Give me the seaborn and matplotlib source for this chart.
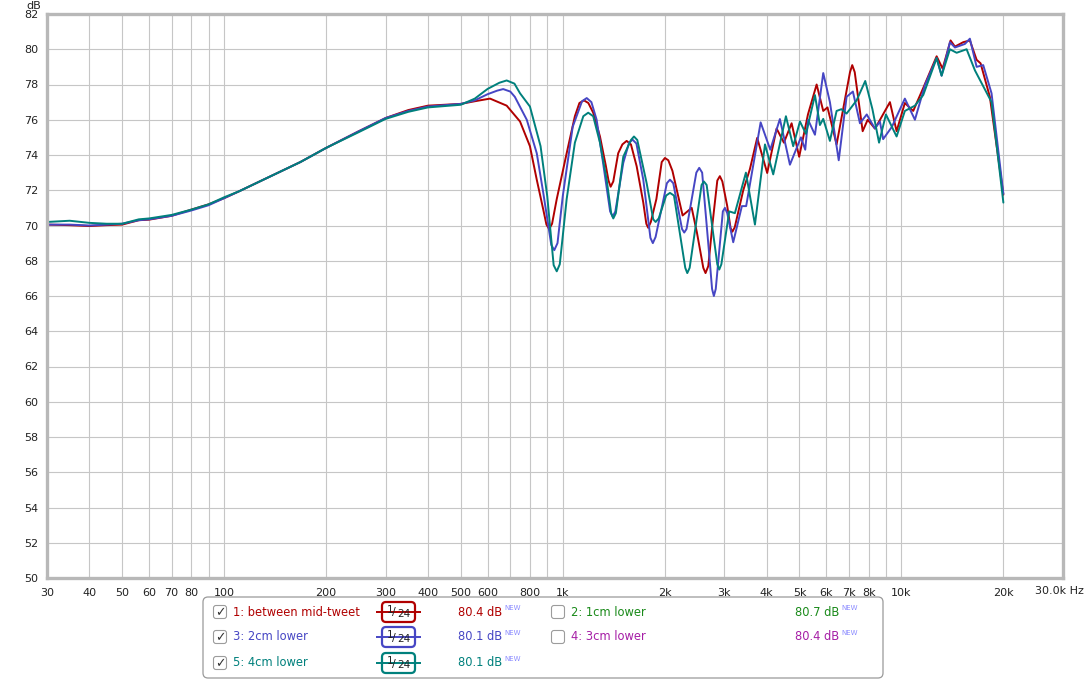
import pandas as pd
import matplotlib
matplotlib.use("Agg")
import matplotlib.pyplot as plt
from matplotlib.patches import FancyBboxPatch
import seaborn as sns

# frequency response: (Hz, dB)
red_points = [
    (30, 70.05), (35, 70.02), (40, 69.97), (45, 70.02), (50, 70.05), (56, 70.3), (60, 70.33),
    (70, 70.55), (80, 70.9), (90, 71.2), (100, 71.55), (111, 71.95), (134, 72.7), (168, 73.6),
    (200, 74.4), (250, 75.35), (300, 76.1), (350, 76.55), (400, 76.8), (500, 76.9),
    (550, 77.05), (610, 77.2), (683, 76.8), (748, 75.9), (800, 74.5), (838, 72.6),
    (876, 70.9), (895, 70.05), (912, 69.8), (930, 70.1), (960, 71.5), (1027, 74.1),
    (1086, 76.2), (1120, 76.95), (1155, 77.1), (1190, 76.95), (1230, 76.4), (1288, 75.05),
    (1340, 73.4), (1365, 72.55), (1385, 72.2), (1410, 72.5), (1458, 74.1), (1500, 74.6),
    (1544, 74.8), (1590, 74.6), (1653, 73.36), (1729, 71.3), (1765, 70.1), (1788, 69.87),
    (1820, 70.2), (1890, 71.5), (1960, 73.6), (2003, 73.83), (2050, 73.7), (2108, 73.1),
    (2259, 70.57), (2403, 71.0), (2490, 69.6), (2600, 67.6), (2640, 67.3), (2690, 67.7),
    (2770, 70.15), (2860, 72.55), (2910, 72.8), (2960, 72.5), (3060, 71.1), (3130, 69.85),
    (3170, 69.65), (3220, 69.9), (3412, 72.0), (3570, 73.2), (3751, 74.97), (4015, 72.98),
    (4280, 75.5), (4498, 74.7), (4740, 75.8), (4990, 73.9), (5297, 76.3), (5619, 78.0),
    (5877, 76.5), (6050, 76.7), (6436, 74.6), (7050, 78.7), (7158, 79.1), (7280, 78.7),
    (7684, 75.35), (7950, 76.0), (8352, 75.5), (8590, 75.9), (9249, 77.0), (9678, 75.35),
    (10237, 76.95), (10836, 76.5), (11598, 77.8), (12706, 79.6), (13232, 78.9),
    (13969, 80.5), (14390, 80.15), (15220, 80.4), (15928, 80.5), (16676, 79.4),
    (17132, 79.2), (18243, 77.3), (20000, 71.75),
]

blue_points = [
    (30, 70.05), (35, 70.05), (40, 70.0), (45, 70.05), (50, 70.1), (56, 70.3), (60, 70.35),
    (70, 70.55), (80, 70.85), (90, 71.15), (100, 71.55), (111, 71.95), (134, 72.7),
    (168, 73.6), (200, 74.4), (250, 75.35), (300, 76.1), (350, 76.5), (400, 76.75),
    (500, 76.9), (550, 77.1), (600, 77.45), (640, 77.65), (667, 77.74), (700, 77.6),
    (722, 77.3), (783, 76.0), (838, 74.1), (876, 71.85), (925, 68.9), (944, 68.6),
    (965, 69.0), (1000, 71.66), (1070, 75.6), (1140, 77.05), (1177, 77.23), (1215, 77.0),
    (1259, 76.0), (1312, 73.7), (1380, 70.8), (1404, 70.5), (1430, 70.8), (1509, 73.55),
    (1570, 74.7), (1608, 74.87), (1650, 74.65), (1729, 72.6), (1815, 69.3), (1845, 69.0),
    (1880, 69.35), (2030, 72.4), (2073, 72.6), (2120, 72.4), (2250, 69.8), (2284, 69.6),
    (2320, 69.8), (2480, 73.0), (2529, 73.27), (2580, 73.0), (2700, 68.6), (2760, 66.4),
    (2794, 66.0), (2830, 66.4), (2970, 70.8), (3012, 71.0), (3060, 70.7), (3187, 69.05),
    (3380, 71.1), (3480, 71.1), (3840, 75.85), (4100, 74.3), (4377, 76.04), (4686, 73.45),
    (5050, 75.0), (5200, 74.3), (5300, 76.0), (5555, 75.15), (5877, 78.65), (6150, 77.0),
    (6530, 73.7), (6888, 77.3), (7190, 77.6), (7543, 75.8), (7900, 76.3), (8352, 75.5),
    (8640, 75.9), (8832, 74.9), (9375, 75.6), (10237, 77.2), (10962, 76.0), (11750, 78.0),
    (12706, 79.5), (13142, 78.5), (13905, 80.4), (14390, 80.1), (15396, 80.3),
    (15928, 80.6), (16676, 79.0), (17440, 79.1), (18456, 77.5), (20000, 71.8),
]

teal_points = [
    (30, 70.2), (35, 70.27), (40, 70.15), (45, 70.1), (50, 70.1), (56, 70.35), (60, 70.4),
    (70, 70.6), (80, 70.9), (90, 71.2), (100, 71.6), (111, 71.95), (134, 72.7), (168, 73.6),
    (200, 74.4), (250, 75.3), (300, 76.05), (350, 76.45), (400, 76.7), (500, 76.85),
    (550, 77.2), (600, 77.75), (650, 78.1), (683, 78.23), (720, 78.05), (748, 77.5),
    (800, 76.75), (860, 74.5), (900, 71.66), (940, 67.75), (960, 67.4), (980, 67.8),
    (1027, 71.5), (1086, 74.7), (1150, 76.2), (1189, 76.4), (1230, 76.2), (1288, 74.7),
    (1348, 72.6), (1390, 70.7), (1410, 70.4), (1435, 70.7), (1509, 73.9), (1590, 74.85),
    (1623, 75.05), (1660, 74.85), (1769, 72.4), (1850, 70.35), (1880, 70.2), (1920, 70.4),
    (2020, 71.7), (2073, 71.85), (2130, 71.7), (2300, 67.6), (2332, 67.3), (2370, 67.6),
    (2570, 72.3), (2610, 72.5), (2660, 72.3), (2860, 67.8), (2898, 67.5), (2940, 67.8),
    (3101, 70.8), (3223, 70.7), (3474, 73.0), (3694, 70.05), (3955, 74.6), (4183, 72.9),
    (4560, 76.2), (4791, 74.5), (5016, 75.9), (5226, 75.2), (5555, 77.4), (5746, 75.7),
    (5877, 76.05), (6150, 74.8), (6436, 76.5), (6650, 76.6), (6888, 76.35), (7374, 77.1),
    (7820, 78.2), (8211, 76.6), (8590, 74.7), (9000, 76.3), (9678, 75.05), (10237, 76.5),
    (10962, 76.8), (11598, 77.4), (12706, 79.5), (13142, 78.5), (13905, 80.0),
    (14556, 79.8), (15579, 80.0), (16486, 78.8), (18456, 77.0), (20000, 71.3),
]

x_ticks = [30, 40, 50, 60, 70, 80, 100, 200, 300, 400, 500, 600, 800, 1000, 2000, 3000,
           4000, 5000, 6000, 7000, 8000, 10000, 20000]
x_labels = ["30", "40", "50", "60", "70", "80", "100", "200", "300", "400", "500", "600",
            "800", "1k", "2k", "3k", "4k", "5k", "6k", "7k", "8k", "10k", "20k"]
x_minor = [90, 700, 900, 9000]
y_ticks = list(range(50, 83, 2))

series_names = ["1: between mid-tweet", "3: 2cm lower", "5: 4cm lower"]
series_colors = ["#b00000", "#4646c4", "#00807c"]
series_levels = ["80.4 dB", "80.1 dB", "80.1 dB"]
hidden_names = ["2: 1cm lower", "4: 3cm lower"]
hidden_colors = ["#1a8a1a", "#a61ea6"]
hidden_levels = ["80.7 dB", "80.4 dB"]

sns.set_style("white")
plt.rcParams["font.family"] = ["DejaVu Sans"]

W, H = 1086, 680
fig = plt.figure(figsize=(W / 100, H / 100), dpi=100)
ax = fig.add_axes([47 / W, 1 - 578 / H, (1063 - 47) / W, (578 - 14) / H])

for pts, c in zip([red_points, blue_points, teal_points], series_colors):
    df = pd.DataFrame(pts, columns=["Hz", "dB"])
    sns.lineplot(data=df, x="Hz", y="dB", color=c, linewidth=1.4, ax=ax, sort=False)

ax.set_xscale("log")
ax.set_xlim(30, 30000)
ax.set_ylim(50, 82)
ax.set_xticks(x_ticks)
ax.set_xticklabels(x_labels)
ax.set_xticks(x_minor, minor=True)
ax.set_xticklabels([], minor=True)
ax.set_yticks(y_ticks)
ax.set_xlabel("")
ax.set_ylabel("")
ax.grid(True, which="both", color="#c6c6c6", linewidth=0.8)
ax.set_axisbelow(True)
ax.tick_params(axis="both", which="both", length=0, labelsize=8, colors="#222222")
ax.tick_params(axis="x", pad=7)
ax.tick_params(axis="y", pad=6)
for s in ax.spines.values():
    s.set_color("#b8b8b8")
    s.set_linewidth(2.4)

# overlay in pixel coordinates for the extra labels and the legend panel
ov = fig.add_axes([0, 0, 1, 1], facecolor="none")
ov.set_xlim(0, W)
ov.set_ylim(H, 0)
ov.axis("off")

ov.text(34, 6, "dB", fontsize=8, ha="center", va="center", color="#222222")
ov.text(1084, 591, "30.0k Hz", fontsize=8, ha="right", va="center", color="#222222")

ov.add_patch(FancyBboxPatch((203, 597), 680, 81, boxstyle="round,pad=0,rounding_size=5",
                            facecolor="white", edgecolor="#9a9a9a", linewidth=0.9))


def checkbox(x, y, checked):
    ov.add_patch(FancyBboxPatch((x - 6.5, y - 6.5), 13, 13,
                                boxstyle="round,pad=0,rounding_size=2.5",
                                facecolor="white", edgecolor="#9c9c9c", linewidth=0.8))
    if checked:
        ov.text(x, y + 0.5, "\u2713", fontsize=9, ha="center", va="center", color="#333333")


def level(x, y, txt, c):
    ov.text(x, y, txt, fontsize=8.3, ha="left", va="center", color=c)
    ov.text(x + 46, y - 4, "NEW", fontsize=5, ha="left", va="center", color="#8c8cff")


rows = [612, 637, 663]
for y, name, c, lv in zip(rows, series_names, series_colors, series_levels):
    checkbox(220, y, True)
    ov.text(233, y, name, fontsize=8.3, ha="left", va="center", color=c)
    ov.plot([376, 421], [y, y], color=c, linewidth=1.4, solid_capstyle="butt")
    ov.add_patch(FancyBboxPatch((382, y - 10), 33, 20, boxstyle="round,pad=0,rounding_size=4",
                                facecolor="white", edgecolor=c, linewidth=1.6))
    ov.text(390, y - 2, "1", fontsize=7.5, ha="center", va="center", color="#222222")
    ov.text(394, y + 0.5, "/", fontsize=8, ha="center", va="center", color="#222222")
    ov.text(404, y + 2, "24", fontsize=7.5, ha="center", va="center", color="#222222")
    level(458, y, lv, c)

for y, name, c, lv in zip(rows[:2], hidden_names, hidden_colors, hidden_levels):
    checkbox(558, y, False)
    ov.text(571, y, name, fontsize=8.3, ha="left", va="center", color=c)
    level(795, y, lv, c)

fig.savefig("out.png", dpi=100)
